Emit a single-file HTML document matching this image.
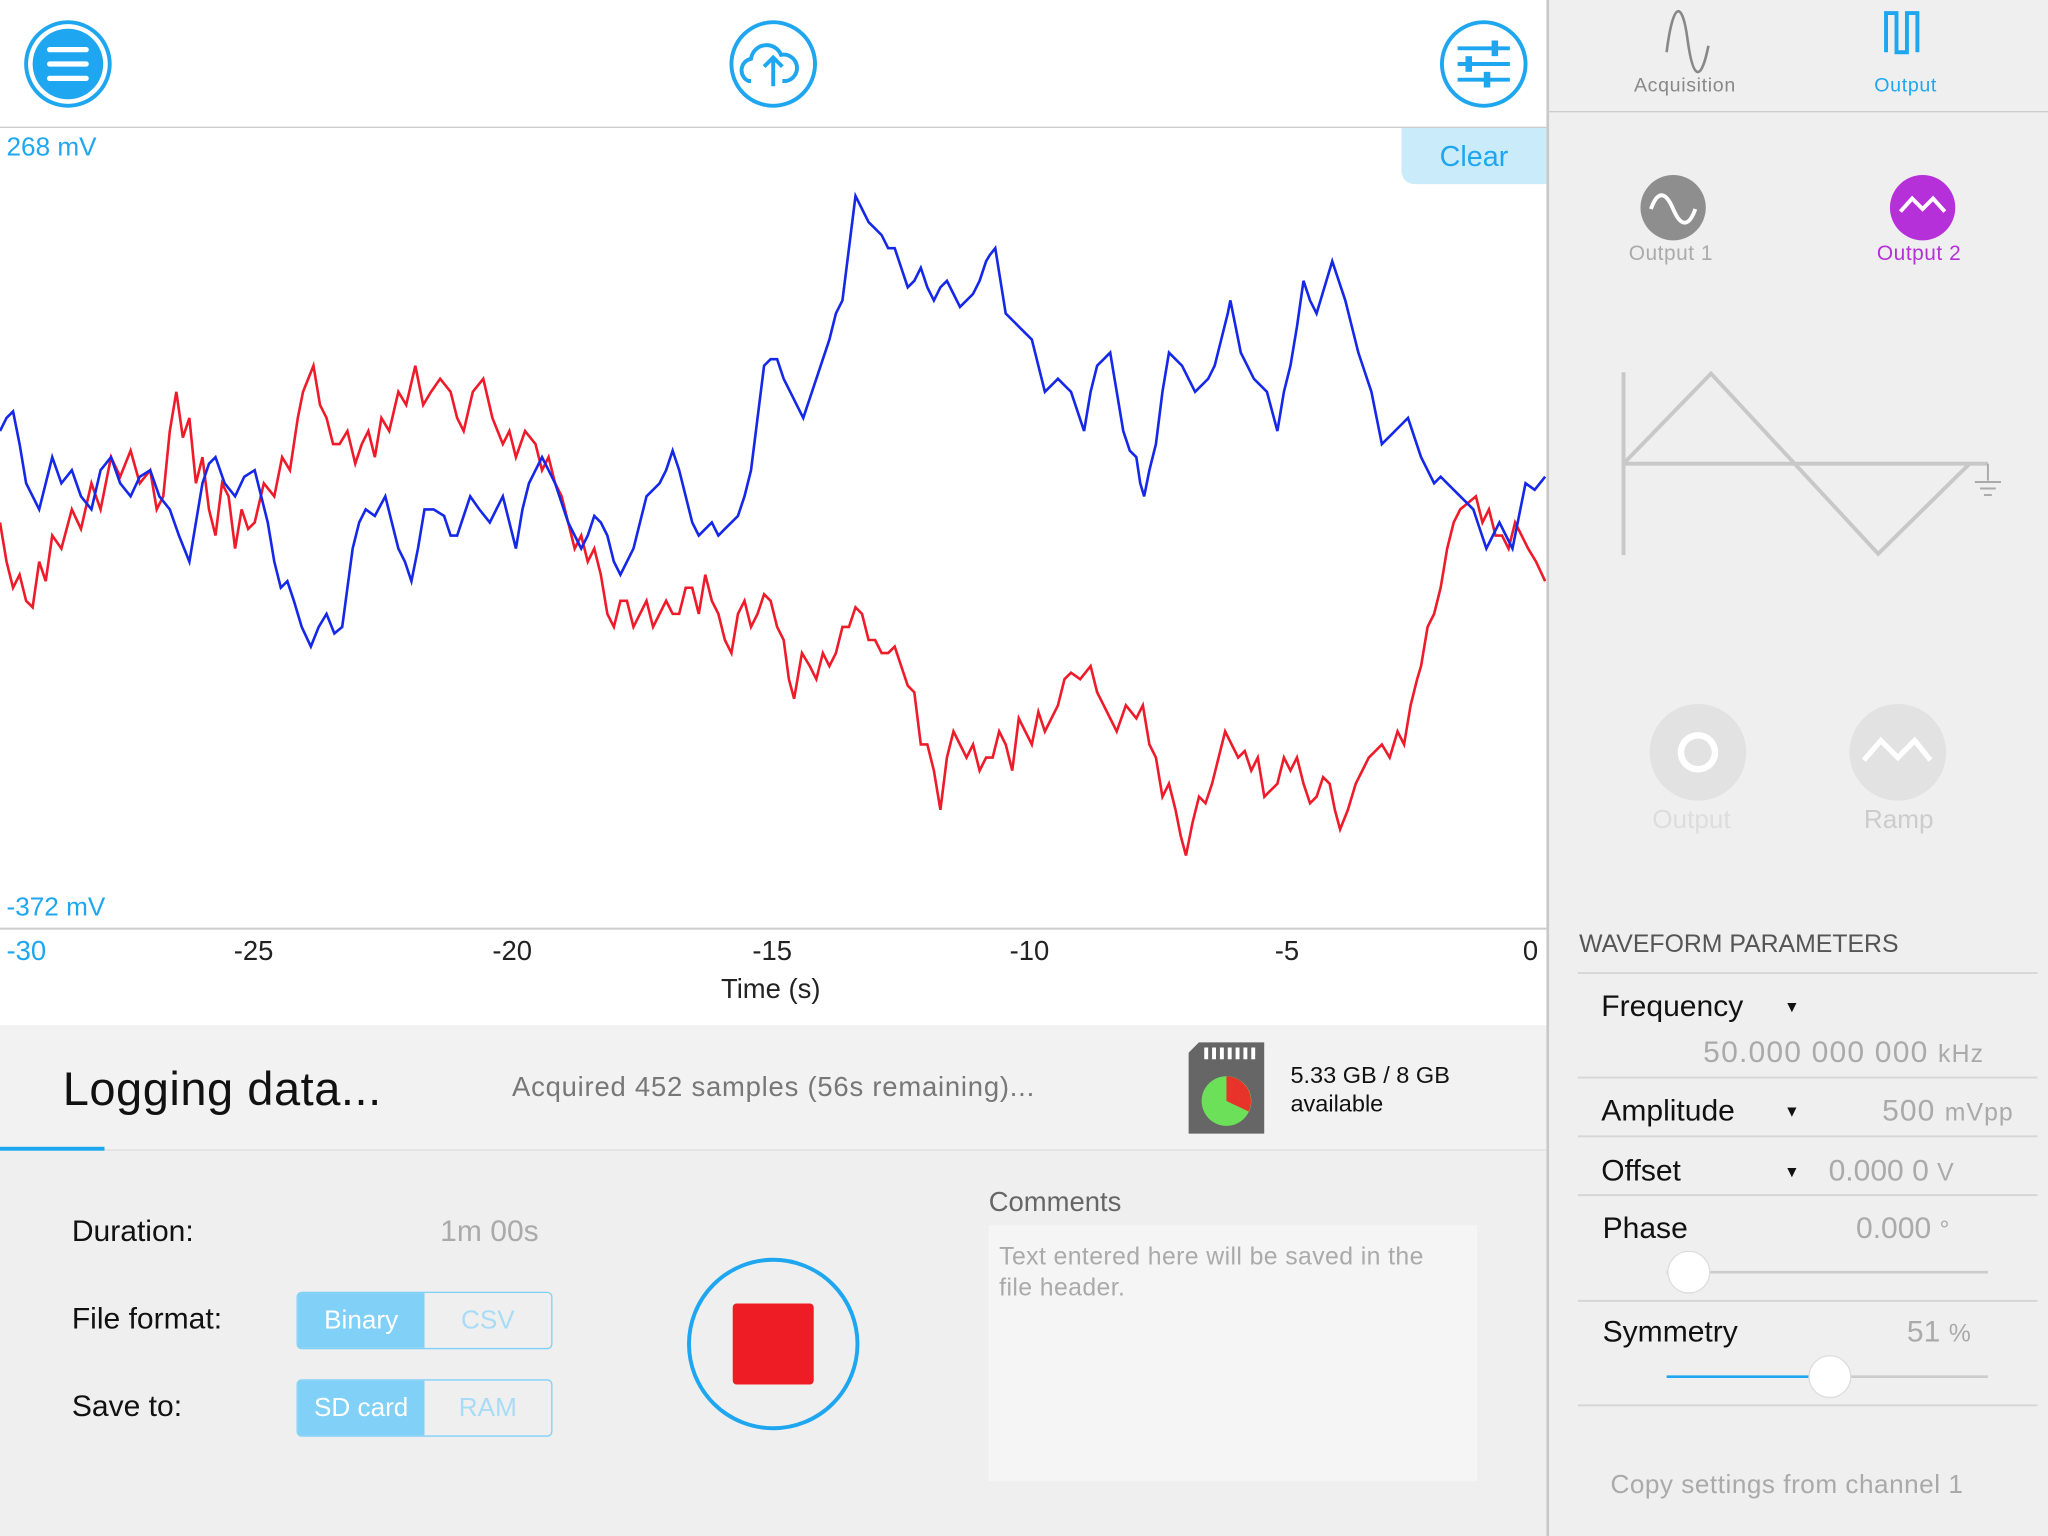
<!DOCTYPE html>
<html><head><meta charset="utf-8">
<style>
html,body{margin:0;padding:0;width:2048px;height:1536px;overflow:hidden;background:#fff;}
#w{position:absolute;left:0;top:0;width:1568px;height:1176px;transform:scale(1.30612);transform-origin:0 0;font-family:"Liberation Sans",sans-serif;}
.a{position:absolute;}
.b{color:#1ea7f0}
</style></head><body><div id="w">
<div class="a" style="left:0;top:0;width:1184px;height:97px;background:#fff;border-bottom:1px solid #ccc"></div>
<svg class="a" style="left:0;top:0" width="1184" height="97">
<circle cx="52" cy="49" r="32" fill="none" stroke="#1ea7f0" stroke-width="3"/>
<circle cx="52" cy="49" r="27" fill="#1ea7f0"/>
<g stroke="#fff" stroke-width="4" stroke-linecap="round"><line x1="38" y1="38" x2="66" y2="38"/><line x1="38" y1="49" x2="66" y2="49"/><line x1="38" y1="60" x2="66" y2="60"/></g>
<circle cx="592" cy="49" r="32" fill="none" stroke="#1ea7f0" stroke-width="3"/>
<path d="M575 62 h-2 a9 9 0 0 1 2-17 a12 12 0 0 1 23-3 a9 9 0 0 1 4 20 h-3" fill="none" stroke="#1ea7f0" stroke-width="3"/>
<path d="M592 66 v-22 m-7 7 l7-7 l7 7" fill="none" stroke="#1ea7f0" stroke-width="3"/>
<circle cx="1136" cy="49" r="32" fill="none" stroke="#1ea7f0" stroke-width="3"/>
<g stroke="#1ea7f0" stroke-width="3"><line x1="1116" y1="37" x2="1156" y2="37"/><line x1="1116" y1="49" x2="1156" y2="49"/><line x1="1116" y1="61" x2="1156" y2="61"/></g>
<rect x="1142" y="31" width="5" height="12" fill="#1ea7f0"/><rect x="1122" y="43" width="5" height="12" fill="#1ea7f0"/><rect x="1136" y="55" width="5" height="12" fill="#1ea7f0"/>
</svg>
<div class="a" style="left:0;top:98px;width:1184px;height:687px;background:#fff"></div>
<div class="a b" style="left:5px;top:102px;font-size:20px">268 mV</div>
<div class="a b" style="left:5px;top:684px;font-size:20px">-372 mV</div>
<div class="a b" style="left:1073px;top:98px;width:111px;height:43px;background:#c9ebfa;border-radius:0 0 0 10px;font-size:22px;text-align:center;line-height:44px">Clear</div>
<svg class="a" style="left:0;top:0" width="1184" height="785">
<line x1="0" y1="711" x2="1184" y2="711" stroke="#ccc" stroke-width="1.5"/>
<polyline fill="none" stroke="#ee1c2b" stroke-width="2" points="0,400 5,430 10,450 15,440 20,460 25,465 30,430 35,445 40,410 47,420 55,390 62,405 70,370 77,390 85,350 92,365 100,345 107,370 115,360 120,390 125,380 130,330 135,300 140,335 145,320 150,370 155,350 160,390 165,410 170,370 175,380 180,420 185,390 190,405 195,400 202,370 210,380 216,350 222,360 228,320 232,300 236,290 240,280 245,310 250,320 255,340 260,340 266,330 272,355 277,340 282,330 287,350 292,320 298,330 305,300 311,310 318,280 324,310 330,300 337,290 345,300 350,320 355,330 362,300 370,290 377,320 385,340 390,330 395,350 402,330 410,340 415,360 420,350 425,370 430,380 435,400 440,420 445,410 450,430 455,420 460,440 465,470 470,480 475,460 480,460 485,480 490,470 495,460 500,480 505,470 510,460 515,470 520,470 525,450 530,450 535,470 540,440 545,460 550,470 555,490 560,500 565,470 570,460 575,480 580,470 585,455 590,460 595,480 600,490 604,520 608,535 614,500 620,510 625,520 630,500 635,510 640,500 645,480 650,480 655,465 660,470 665,490 670,490 675,500 680,500 685,495 690,510 695,525 700,530 705,570 710,570 715,590 720,620 725,580 730,560 735,570 740,580 745,570 750,590 755,580 760,580 765,560 770,570 775,590 780,550 785,560 790,570 795,545 800,560 805,550 810,540 815,520 820,515 827,520 835,510 840,530 845,540 850,550 855,560 862,540 870,550 875,540 880,570 885,580 890,610 895,600 900,620 904,640 908,655 913,630 918,610 923,615 928,600 933,580 938,560 943,570 948,580 953,575 958,590 963,580 968,610 973,605 978,600 983,580 988,590 993,580 998,600 1003,615 1008,610 1013,595 1018,600 1022,620 1026,635 1032,620 1038,600 1043,590 1048,580 1053,575 1058,570 1064,580 1070,560 1075,570 1080,540 1085,520 1088,510 1093,480 1098,470 1103,450 1108,420 1113,400 1118,390 1124,385 1130,380 1135,400 1140,390 1145,410 1150,410 1155,420 1160,400 1165,410 1170,420 1176,430 1183,445"/>
<polyline fill="none" stroke="#1528e8" stroke-width="2" points="0,330 5,320 10,315 15,340 20,370 25,380 30,390 35,370 40,350 47,370 55,360 62,380 70,390 77,360 85,350 92,370 100,380 107,365 115,360 122,380 130,390 137,410 145,430 150,400 155,370 160,355 165,350 172,370 180,380 187,365 195,360 200,380 205,400 210,430 215,450 220,445 225,460 231,480 238,495 244,480 250,470 256,485 262,480 266,450 270,420 275,400 280,390 287,395 295,380 300,400 305,420 310,430 315,445 320,420 325,390 332,390 340,395 345,410 350,410 355,395 360,380 367,390 375,400 380,390 385,380 390,400 395,420 400,390 405,370 410,360 415,350 420,360 425,370 430,385 435,400 440,410 445,420 450,410 455,395 460,400 465,410 470,430 475,440 480,430 485,420 490,400 495,380 500,375 505,370 510,360 515,345 520,360 525,380 530,400 535,410 540,405 545,400 550,410 555,405 560,400 565,395 570,380 575,360 580,320 585,280 590,275 595,275 600,290 605,300 610,310 615,320 620,305 625,290 630,275 635,260 640,240 645,230 650,190 655,150 660,160 665,170 670,175 675,180 680,190 685,190 690,205 695,220 700,215 705,205 710,220 715,230 720,220 725,215 730,225 735,235 740,230 745,225 750,215 755,200 758,195 762,190 766,215 770,240 775,245 780,250 785,255 790,260 795,280 800,300 805,295 810,290 815,295 820,300 825,315 830,330 835,300 840,280 845,275 850,270 855,300 860,330 865,345 870,350 873,370 876,380 880,360 885,340 890,300 895,270 900,275 905,280 910,290 915,300 920,295 925,290 930,280 935,260 940,240 942,230 946,250 950,270 955,280 960,290 965,295 970,300 974,315 978,330 983,300 988,280 993,250 998,215 1003,230 1008,240 1014,220 1020,200 1025,215 1030,230 1035,250 1040,270 1045,285 1050,300 1054,320 1058,340 1063,335 1068,330 1073,325 1078,320 1083,335 1088,350 1093,360 1098,370 1103,365 1108,370 1113,375 1118,380 1123,385 1128,390 1133,405 1138,420 1143,410 1148,400 1153,410 1158,420 1163,395 1168,370 1175,375 1183,365"/>
</svg>
<div class="a" style="left:5px;top:717px;font-size:21px;color:#1ea7f0">-30</div>
<div class="a" style="left:179px;top:717px;font-size:21px;color:#222">-25</div>
<div class="a" style="left:377px;top:717px;font-size:21px;color:#222">-20</div>
<div class="a" style="left:576px;top:717px;font-size:21px;color:#222">-15</div>
<div class="a" style="left:773px;top:717px;font-size:21px;color:#222">-10</div>
<div class="a" style="left:976px;top:717px;font-size:21px;color:#222">-5</div>
<div class="a" style="left:1166px;top:717px;font-size:21px;color:#222">0</div>
<div class="a" style="left:552px;top:746px;font-size:21px;color:#222">Time (s)</div>
<div class="a" style="left:0;top:785px;width:1184px;height:391px;background:#efefef"></div>
<div class="a" style="left:0;top:785px;width:1184px;height:95px;background:#f2f2f2;border-bottom:1px solid #ddd"></div>
<div class="a" style="left:0;top:878px;width:80px;height:3px;background:#1ea7f0"></div>
<div class="a" style="left:48px;top:813px;font-size:36px;color:#111;letter-spacing:0.4px">Logging data...</div>
<div class="a" style="left:392px;top:821px;font-size:21px;color:#777;letter-spacing:0.6px">Acquired 452 samples (56s remaining)...</div>
<svg class="a" style="left:910px;top:798px" width="58" height="70">
<path d="M8 0 h50 v70 h-58 v-62 z" fill="#666"/>
<g fill="#fff"><rect x="12" y="4" width="3" height="9"/><rect x="18" y="4" width="3" height="9"/><rect x="24" y="4" width="3" height="9"/><rect x="30" y="4" width="3" height="9"/><rect x="36" y="4" width="3" height="9"/><rect x="42" y="4" width="3" height="9"/><rect x="48" y="4" width="3" height="9"/></g>
<circle cx="29" cy="45" r="19" fill="#6de05a"/>
<path d="M29 45 v-19 a19 19 0 0 1 17 27 z" fill="#e8332a"/>
</svg>
<div class="a" style="left:988px;top:812px;font-size:18px;color:#111;line-height:22px">5.33 GB / 8 GB<br>available</div>
<div class="a" style="left:55px;top:929px;font-size:23px;color:#111">Duration:</div>
<div class="a" style="left:337px;top:929px;font-size:23px;color:#aaa">1m 00s</div>
<div class="a" style="left:55px;top:996px;font-size:23px;color:#111">File format:</div>
<div class="a" style="left:55px;top:1063px;font-size:23px;color:#111">Save to:</div>
<div class="a" style="left:227px;top:989px;width:194px;height:42px;border:1px solid #7fd0f7;border-radius:4px;overflow:hidden;font-size:20px">
<div class="a" style="left:0;top:0;width:97px;height:42px;background:#80d0f7;color:#fff;text-align:center;line-height:42px">Binary</div>
<div class="a" style="left:97px;top:0;width:97px;height:42px;color:#a8dcf6;text-align:center;line-height:42px">CSV</div></div>
<div class="a" style="left:227px;top:1056px;width:194px;height:42px;border:1px solid #7fd0f7;border-radius:4px;overflow:hidden;font-size:20px">
<div class="a" style="left:0;top:0;width:97px;height:42px;background:#80d0f7;color:#fff;text-align:center;line-height:42px">SD card</div>
<div class="a" style="left:97px;top:0;width:97px;height:42px;color:#a8dcf6;text-align:center;line-height:42px">RAM</div></div>
<div class="a" style="left:526px;top:963px;width:126px;height:126px;border:3px solid #1ea7f0;border-radius:50%"></div>
<div class="a" style="left:561px;top:998px;width:62px;height:62px;background:#ee1c24;border-radius:3px"></div>
<div class="a" style="left:757px;top:909px;font-size:21px;color:#666">Comments</div>
<div class="a" style="left:757px;top:938px;width:374px;height:196px;background:#f5f5f5"></div>
<div class="a" style="left:765px;top:951px;width:345px;font-size:19px;color:#aaa;line-height:24px;letter-spacing:0.3px">Text entered here will be saved in the file header.</div>
<div class="a" style="left:1184px;top:0;width:384px;height:1176px;background:#efefef;border-left:2px solid #c8c8c8"></div>
<div class="a" style="left:1186px;top:85px;width:382px;height:1px;background:#ccc"></div>
<svg class="a" style="left:1186px;top:0" width="382" height="1176">
<path d="M90 40 c5 -40 12 -40 16 -10 s10 35 16 5" fill="none" stroke="#888" stroke-width="2"/>
<path d="M258 40 v-30 h8 v30 h8 v-30 h8 v30" fill="none" stroke="#1ea7f0" stroke-width="3"/>
<circle cx="95" cy="159" r="25" fill="#8e8e8e"/>
<path d="M78 160 c5-14 11-14 17 0 s12 14 17 0" fill="none" stroke="#fff" stroke-width="3"/>
<circle cx="286" cy="159" r="25" fill="#b530d8"/>
<path d="M269 162 l9-10 l8 8 l8 -8 l9 10" fill="none" stroke="#fff" stroke-width="3"/>
<g stroke="#c8c8c8" stroke-width="3" fill="none"><line x1="57" y1="285" x2="57" y2="425"/><line x1="57" y1="355" x2="322" y2="355"/><polyline points="57,355 124,286 252,424 322,355"/><line x1="322" y1="355" x2="336" y2="355"/></g>
<g stroke="#aaa" stroke-width="1.5"><line x1="336" y1="355" x2="336" y2="368"/><line x1="326" y1="369" x2="346" y2="369"/><line x1="330" y1="374" x2="342" y2="374"/><line x1="333" y1="379" x2="339" y2="379"/></g>
<circle cx="114" cy="576" r="37" fill="#e2e2e2"/><circle cx="114" cy="576" r="13" fill="none" stroke="#fff" stroke-width="5"/>
<circle cx="267" cy="576" r="37" fill="#e2e2e2"/><path d="M241 582 l13-15 l13 13 l13-13 l12 15" fill="none" stroke="#fff" stroke-width="4"/>
<g stroke="#d6d6d6" stroke-width="1.5"><line x1="22" y1="745" x2="374" y2="745"/><line x1="22" y1="825" x2="374" y2="825"/><line x1="22" y1="870" x2="374" y2="870"/><line x1="22" y1="915" x2="374" y2="915"/><line x1="22" y1="996" x2="374" y2="996"/><line x1="22" y1="1076" x2="374" y2="1076"/></g>
<line x1="90" y1="974" x2="336" y2="974" stroke="#ccc" stroke-width="2"/>
<circle cx="107" cy="974" r="16" fill="#fff" stroke="#ddd"/>
<line x1="90" y1="1054" x2="215" y2="1054" stroke="#1ea7f0" stroke-width="2"/><line x1="215" y1="1054" x2="336" y2="1054" stroke="#ccc" stroke-width="2"/>
<circle cx="215" cy="1054" r="16" fill="#fff" stroke="#ddd"/>
</svg>
<div class="a" style="left:1251px;top:57px;font-size:15px;color:#888;letter-spacing:0.5px">Acquisition</div>
<div class="a b" style="left:1435px;top:57px;font-size:15px;letter-spacing:0.5px">Output</div>
<div class="a" style="left:1247px;top:186px;font-size:16px;color:#aaa;letter-spacing:0.4px">Output 1</div>
<div class="a" style="left:1437px;top:186px;font-size:16px;color:#b530d8;letter-spacing:0.4px">Output 2</div>
<div class="a" style="left:1265px;top:617px;font-size:20px;color:#ddd">Output</div>
<div class="a" style="left:1427px;top:617px;font-size:20px;color:#ccc">Ramp</div>
<div class="a" style="left:1209px;top:713px;font-size:19px;color:#555">WAVEFORM PARAMETERS</div>
<div class="a" style="left:1226px;top:757px;font-size:23px;color:#111">Frequency</div>
<div class="a" style="left:1366px;top:764px;font-size:12px;color:#111">▼</div>
<div class="a" style="left:1304px;top:792px;font-size:23px;color:#aaa;letter-spacing:0.9px">50.000 000 000 <span style="font-size:19px">kHz</span></div>
<div class="a" style="left:1226px;top:837px;font-size:23px;color:#111">Amplitude</div>
<div class="a" style="left:1366px;top:844px;font-size:12px;color:#111">▼</div>
<div class="a" style="left:1441px;top:837px;font-size:23px;color:#aaa;letter-spacing:0.8px">500 <span style="font-size:19px">mVpp</span></div>
<div class="a" style="left:1226px;top:883px;font-size:23px;color:#111">Offset</div>
<div class="a" style="left:1366px;top:890px;font-size:12px;color:#111">▼</div>
<div class="a" style="left:1400px;top:883px;font-size:23px;color:#aaa">0.000 0 <span style="font-size:19px">V</span></div>
<div class="a" style="left:1227px;top:927px;font-size:23px;color:#111">Phase</div>
<div class="a" style="left:1421px;top:927px;font-size:23px;color:#aaa">0.000 <span style="font-size:19px">°</span></div>
<div class="a" style="left:1227px;top:1006px;font-size:23px;color:#111">Symmetry</div>
<div class="a" style="left:1460px;top:1006px;font-size:23px;color:#aaa">51 <span style="font-size:19px">%</span></div>
<div class="a" style="left:1233px;top:1126px;font-size:20px;color:#aaa;letter-spacing:0.4px">Copy settings from channel 1</div>
</div></body></html>
